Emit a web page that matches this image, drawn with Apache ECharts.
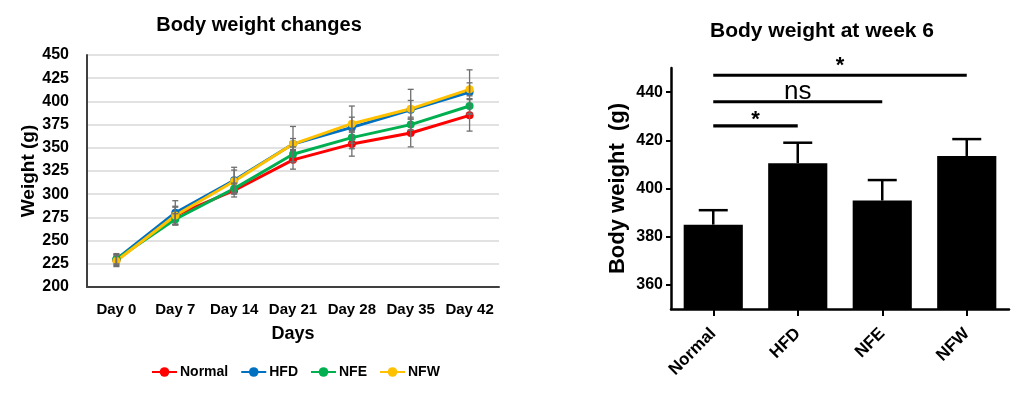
<!DOCTYPE html>
<html>
<head>
<meta charset="utf-8">
<script src="https://cdn.jsdelivr.net/npm/echarts@6/dist/echarts.min.js"></script>
<style>
html,body{margin:0;padding:0;background:#fff;}
#c{width:1026px;height:393px;}
</style>
</head>
<body>
<div id="c"></div>
<script>
// ---- Left chart data ----
const days = ['Day 0', 'Day 7', 'Day 14', 'Day 21', 'Day 28', 'Day 35', 'Day 42'];
const weightTicks = [200, 225, 250, 275, 300, 325, 350, 375, 400, 425, 450];
const normalMean = [229, 277, 304, 337, 354, 366, 385];
const hfdMean    = [230, 280, 315, 354, 372, 391, 410];
const nfeMean    = [230, 273, 306, 343, 361, 375, 395];
const nfwMean    = [228, 277, 314, 354, 376, 392, 413];
const normalErr  = [6, 9, 7, 10, 13, 15, 17];
const hfdErr     = [6, 13, 14, 19, 23, 22, 24];
const nfeErr     = [5, 6, 6, 8, 6, 6, 8];
const nfwErr     = [6, 10, 12, 6, 7, 9, 7];

// ---- Right chart data ----
const groups = ['Normal', 'HFD', 'NFE', 'NFW'];
const week6Ticks = [360, 380, 400, 420, 440];
const week6Mean = [385, 410.5, 395, 413.5];
const week6Sem  = [6, 8.5, 8.5, 7];
const sigStart  = [0, 0, 0];
const sigEnd    = [1, 2, 3];
const sigLevel  = [426, 436, 447];
const sigLabel  = ['*', 'ns', '*'];

const FONT = 'Liberation Sans, Arial, Helvetica, sans-serif';
const colors = {Normal: '#ff0000', HFD: '#0070c0', NFE: '#00b050', NFW: '#ffc000'};

const chart = echarts.init(document.getElementById('c'), null, {renderer: 'canvas'});

function lineSeries(name, data) {
  return {
    name: name, type: 'line', xAxisIndex: 0, yAxisIndex: 0, data: data,
    symbol: 'circle', symbolSize: 8, lineStyle: {width: 3, color: colors[name]},
    itemStyle: {color: colors[name]}, z: 3, animation: false
  };
}
function errSeries(mean, err) {
  return {
    type: 'custom', xAxisIndex: 0, yAxisIndex: 0, z: 4, animation: false, silent: true,
    data: mean.map((m, i) => [i, m, err[i]]),
    encode: {x: 0, y: 1},
    renderItem: function (params, api) {
      const i = api.value(0), m = api.value(1), e = api.value(2);
      const t = api.coord([i, m + e]), b = api.coord([i, m - e]);
      const w = 3, st = {stroke: '#6e6e6e', lineWidth: 1.3};
      return {type: 'group', children: [
        {type: 'line', shape: {x1: t[0], y1: t[1], x2: b[0], y2: b[1]}, style: st},
        {type: 'line', shape: {x1: t[0] - w, y1: t[1], x2: t[0] + w, y2: t[1]}, style: st},
        {type: 'line', shape: {x1: b[0] - w, y1: b[1], x2: b[0] + w, y2: b[1]}, style: st}
      ]};
    }
  };
}

const option = {
  backgroundColor: '#fff',
  animation: false,
  textStyle: {fontFamily: FONT},
  title: [
    {text: 'Body weight changes', left: 259, top: 15, textAlign: 'center', padding: 0,
     textStyle: {fontSize: 20, fontWeight: 'bold', color: '#000', fontFamily: FONT}},
    {text: 'Body weight at week 6', left: 822, top: 21, textAlign: 'center', padding: 0,
     textStyle: {fontSize: 21, fontWeight: 'bold', color: '#000', fontFamily: FONT}}
  ],
  legend: {
    data: ['Normal', 'HFD', 'NFE', 'NFW'],
    left: 151, top: 365, itemWidth: 25, itemHeight: 12, itemGap: 12, padding: 0,
    textStyle: {fontSize: 14, fontWeight: 'bold', color: '#000', fontFamily: FONT, padding: [0, 0, 0, -2]}
  },
  grid: [
    {left: 87, top: 55, width: 412, height: 232},
    {left: 671, top: 68, width: 338, height: 241}
  ],
  xAxis: [
    {
      type: 'category', gridIndex: 0, data: days, boundaryGap: true,
      axisLine: {lineStyle: {color: '#404040', width: 2}},
      axisTick: {show: false},
      axisLabel: {interval: 0, fontSize: 15, fontWeight: 'bold', color: '#000', margin: 15, fontFamily: FONT},
      name: 'Days', nameLocation: 'middle', nameGap: 38,
      nameTextStyle: {fontSize: 18, fontWeight: 'bold', color: '#000', fontFamily: FONT}
    },
    {
      type: 'category', gridIndex: 1, data: groups, boundaryGap: true,
      axisLine: {lineStyle: {color: '#000', width: 2.5}},
      axisTick: {show: true, alignWithLabel: true, length: 7, lineStyle: {color: '#000', width: 2}},
      axisLabel: {interval: 0, fontSize: 17, fontWeight: 'bold', color: '#000', rotate: 45, margin: 22, fontFamily: FONT}
    }
  ],
  yAxis: [
    {
      type: 'value', gridIndex: 0, min: 200, max: 450, interval: 25,
      axisLine: {show: true, lineStyle: {color: '#404040', width: 2}},
      axisTick: {show: false},
      splitLine: {show: true, lineStyle: {color: '#d9d9d9', width: 1.5}},
      axisLabel: {fontSize: 16, fontWeight: 'bold', color: '#000', margin: 18, fontFamily: FONT,
        customValues: weightTicks},
      name: 'Weight (g)', nameLocation: 'middle', nameGap: 45, nameRotate: 90,
      nameTextStyle: {fontSize: 19, fontWeight: 'bold', color: '#000', fontFamily: FONT}
    },
    {
      type: 'value', gridIndex: 1, min: 350, max: 450, interval: 10,
      axisLine: {show: true, lineStyle: {color: '#000', width: 2.5}},
      axisTick: {show: true, length: 5, lineStyle: {color: '#000', width: 2}, customValues: week6Ticks},
      splitLine: {show: false},
      axisLabel: {fontSize: 16, fontWeight: 'bold', color: '#000', margin: 8, fontFamily: FONT,
        customValues: week6Ticks},
      name: 'Body weight  (g)', nameLocation: 'middle', nameGap: 42, nameRotate: 90,
      nameTextStyle: {fontSize: 22, fontWeight: 'bold', color: '#000', fontFamily: FONT}
    }
  ],
  series: [
    lineSeries('Normal', normalMean),
    lineSeries('HFD', hfdMean),
    lineSeries('NFE', nfeMean),
    lineSeries('NFW', nfwMean),
    errSeries(normalMean, normalErr),
    errSeries(hfdMean, hfdErr),
    errSeries(nfeMean, nfeErr),
    errSeries(nfwMean, nfwErr),
    {
      type: 'bar', xAxisIndex: 1, yAxisIndex: 1, data: week6Mean,
      barCategoryGap: '30%', itemStyle: {color: '#000'}, z: 2
    },
    {
      type: 'custom', xAxisIndex: 1, yAxisIndex: 1, z: 3, silent: true,
      data: week6Mean.map((m, i) => [i, m, week6Sem[i]]),
      encode: {x: 0, y: 1},
      renderItem: function (params, api) {
        const i = api.value(0), m = api.value(1), e = api.value(2);
        const t = api.coord([i, m + e]), b = api.coord([i, m]);
        const w = 14.5, st = {stroke: '#000', lineWidth: 2.5};
        return {type: 'group', children: [
          {type: 'line', shape: {x1: t[0], y1: t[1], x2: b[0], y2: b[1]}, style: st},
          {type: 'line', shape: {x1: t[0] - w, y1: t[1], x2: t[0] + w, y2: t[1]}, style: st}
        ]};
      }
    },
    {
      type: 'custom', xAxisIndex: 1, yAxisIndex: 1, z: 3, silent: true,
      data: sigLevel.map((lv, k) => [sigStart[k], sigEnd[k], lv]),
      encode: {x: [0, 1], y: 2},
      renderItem: function (params, api) {
        const s = api.value(0), e = api.value(1), lv = api.value(2);
        const lab = sigLabel[params.dataIndex];
        const p1 = api.coord([s, lv]), p2 = api.coord([e, lv]);
        const isNs = lab === 'ns';
        const off = isNs ? 10 : (params.dataIndex === 2 ? 9 : 6);
        return {type: 'group', children: [
          {type: 'line', shape: {x1: p1[0], y1: p1[1], x2: p2[0], y2: p2[1]},
           style: {stroke: '#000', lineWidth: 3.2}},
          {type: 'text', x: (p1[0] + p2[0]) / 2, y: p1[1] - off,
           style: {text: lab, fill: '#000', align: 'center', verticalAlign: 'middle',
             font: (isNs ? 'normal 26px ' : 'bold 22px ') + FONT}}
        ]};
      }
    }
  ]
};
chart.setOption(option);
</script>
</body>
</html>
